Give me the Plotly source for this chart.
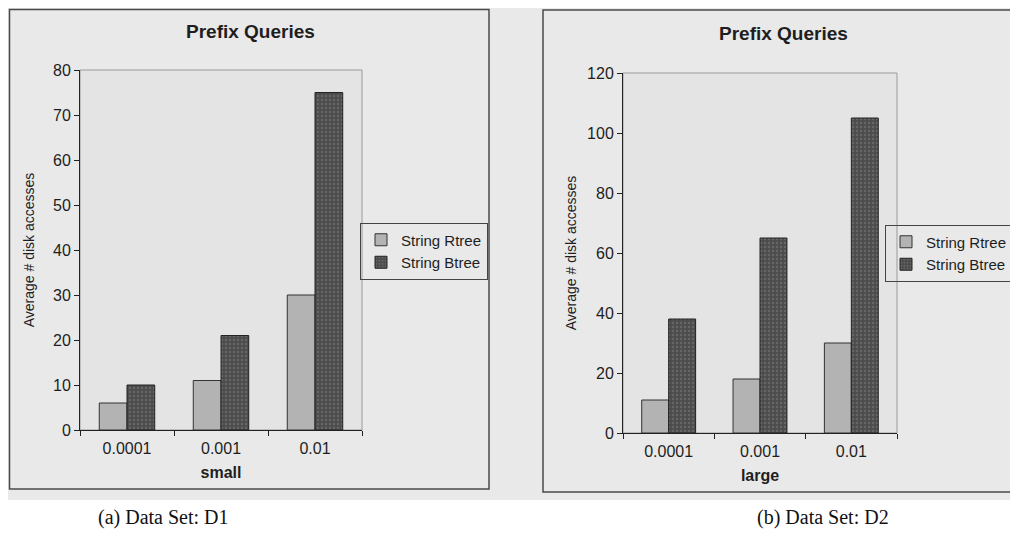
import plotly.graph_objects as go

# The page body adds an 8px margin, so the figure is sized to fit inside the
# 1018x544 window and all reference pixel positions are shifted by OFF.
W, H = 1002, 528
OFF = 8

categories = ["0.0001", "0.001", "0.01"]
series_names = ["String Rtree", "String Btree"]
d1_rtree = [6, 11, 30]
d1_btree = [10, 21, 75]
d2_rtree = [11, 18, 30]
d2_btree = [38, 65, 105]
d1_yticks = [0, 10, 20, 30, 40, 50, 60, 70, 80]
d2_yticks = [0, 20, 40, 60, 80, 100, 120]
titles = ["Prefix Queries", "Prefix Queries"]
xtitles = ["small", "large"]
ytitle = "Average # disk accesses"
captions = ["(a) Data Set: D1", "(b) Data Set: D2"]

def px(x):
    return (x - OFF) / W

def py(y):
    return 1 - (y - OFF) / H

LIGHT = "#b3b3b3"
DARK = "#4c4c4c"
SANS = "Liberation Sans, Arial, sans-serif"
TXT = "#1e1e1e"

fig = go.Figure()

def rtree_marker():
    return dict(color=LIGHT, line=dict(color="#333", width=1))

def btree_marker():
    return dict(color=DARK, line=dict(color="#222", width=1),
                pattern=dict(shape=".", fgcolor="#808080", size=4, solidity=0.3))

fig.add_trace(go.Bar(x=categories, y=d1_rtree, name=series_names[0], xaxis="x", yaxis="y",
                     marker=rtree_marker(), legend="legend"))
fig.add_trace(go.Bar(x=categories, y=d1_btree, name=series_names[1], xaxis="x", yaxis="y",
                     marker=btree_marker(), legend="legend"))
fig.add_trace(go.Bar(x=categories, y=d2_rtree, name=series_names[0], xaxis="x2", yaxis="y2",
                     marker=rtree_marker(), legend="legend2"))
fig.add_trace(go.Bar(x=categories, y=d2_btree, name=series_names[1], xaxis="x2", yaxis="y2",
                     marker=btree_marker(), legend="legend2"))

axis_common = dict(showgrid=False, zeroline=False, ticks="outside", ticklen=5,
                   tickcolor="#222", linecolor="#222", showline=True,
                   tickfont=dict(family=SANS, size=16, color=TXT))

xt_font = dict(family=SANS, size=16, color=TXT)
yt_font = dict(family=SANS, size=14, color=TXT)
leg_font = dict(family=SANS, size=15, color=TXT)

fig.update_layout(
    width=W, height=H,
    margin=dict(l=0, r=0, t=0, b=0, autoexpand=False),
    paper_bgcolor="#e9e9e9",
    plot_bgcolor="rgba(0,0,0,0)",
    barmode="group", bargap=0.41, bargroupgap=0,
    xaxis=dict(domain=[px(80), px(362)], anchor="y", tickson="boundaries", ticklabelstandoff=4,
               title=dict(text="<b>" + xtitles[0] + "</b>", font=xt_font, standoff=10),
               **axis_common),
    yaxis=dict(domain=[py(430), py(70)], anchor="x", range=[0, 80], tickvals=d1_yticks,
               title=dict(text=ytitle, font=yt_font, standoff=15),
               **axis_common),
    xaxis2=dict(domain=[px(623), px(897)], anchor="y2", tickson="boundaries", ticklabelstandoff=4,
                title=dict(text="<b>" + xtitles[1] + "</b>", font=xt_font, standoff=10),
                **axis_common),
    yaxis2=dict(domain=[py(433), py(73)], anchor="x2", range=[0, 120], tickvals=d2_yticks,
                title=dict(text=ytitle, font=yt_font, standoff=7),
                **axis_common),
    legend=dict(x=px(360), y=py(251), xanchor="left", yanchor="middle",
                bgcolor="rgba(0,0,0,0)", bordercolor="#444", borderwidth=1,
                font=leg_font, tracegroupgap=0, itemwidth=30),
    legend2=dict(x=px(885), y=py(253), xanchor="left", yanchor="middle",
                 bgcolor="rgba(0,0,0,0)", bordercolor="#444", borderwidth=1,
                 font=leg_font, tracegroupgap=0, itemwidth=30),
    showlegend=True,
)

shapes = [
    dict(type="rect", xref="paper", yref="paper", x0=px(0), x1=px(1030), y0=py(560), y1=py(500),
         fillcolor="white", line=dict(width=0), layer="below"),
    dict(type="rect", xref="paper", yref="paper", x0=px(9.5), x1=px(489), y0=py(489), y1=py(9.5),
         fillcolor="rgba(0,0,0,0)", line=dict(color="#4a4a4a", width=1.5), layer="below"),
    dict(type="rect", xref="paper", yref="paper", x0=px(543), x1=px(1030), y0=py(492), y1=py(10),
         fillcolor="rgba(0,0,0,0)", line=dict(color="#4a4a4a", width=1.5), layer="below"),
    dict(type="rect", xref="paper", yref="paper", x0=px(80), x1=px(362), y0=py(430), y1=py(70),
         fillcolor="#e4e4e4", line=dict(color="#9a9a9a", width=1), layer="below"),
    dict(type="rect", xref="paper", yref="paper", x0=px(623), x1=px(897), y0=py(433), y1=py(73),
         fillcolor="#e4e4e4", line=dict(color="#9a9a9a", width=1), layer="below"),
]
fig.update_layout(shapes=shapes)

title_font = dict(family=SANS, size=19, color=TXT)
cap_font = dict(family="Liberation Serif, Times New Roman, serif", size=20, color="#111")
annotations = [
    dict(text="<b>" + titles[0] + "</b>", x=px(250), y=py(31), xref="paper", yref="paper",
         xanchor="center", yanchor="middle", showarrow=False, font=title_font),
    dict(text="<b>" + titles[1] + "</b>", x=px(783), y=py(33), xref="paper", yref="paper",
         xanchor="center", yanchor="middle", showarrow=False, font=title_font),
    dict(text=captions[0], x=px(163), y=py(517), xref="paper", yref="paper",
         xanchor="center", yanchor="middle", showarrow=False, font=cap_font),
    dict(text=captions[1], x=px(823), y=py(517), xref="paper", yref="paper",
         xanchor="center", yanchor="middle", showarrow=False, font=cap_font),
]
fig.update_layout(annotations=annotations)

fig.write_html("out.html")
